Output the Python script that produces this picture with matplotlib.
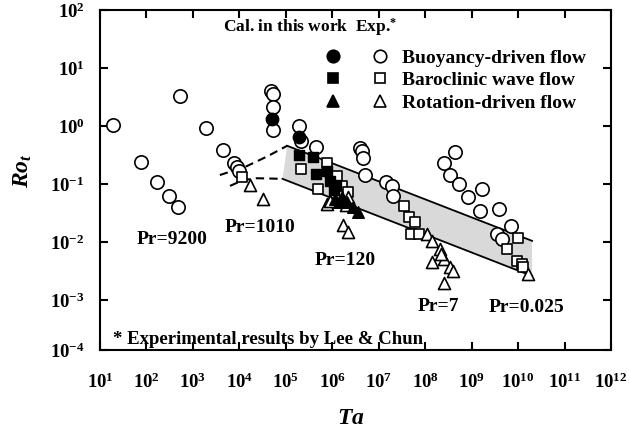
import matplotlib
matplotlib.use('Agg')
import matplotlib.pyplot as plt
from matplotlib.lines import Line2D
from matplotlib.legend_handler import HandlerTuple
from matplotlib.ticker import FixedLocator, NullLocator

plt.rcParams['font.family'] = 'Liberation Serif'
plt.rcParams['font.weight'] = 'bold'
plt.rcParams['mathtext.fontset'] = 'custom'
plt.rcParams['mathtext.rm'] = 'Liberation Serif:bold'
plt.rcParams['mathtext.bf'] = 'Liberation Serif:bold'
plt.rcParams['mathtext.it'] = 'Liberation Serif:italic:bold'

# --- experiments (Lee & Chun), open symbols ---
ta_buoy_exp = [1.9e1, 5.2e2, 7.6e1, 1.7e2, 3.0e2, 4.7e2, 1.9e3, 4.4e3, 7.6e3, 8.7e3,
               9.8e3, 4.7e4, 5.2e4, 5.2e4, 5.2e4, 1.9e5, 2.1e5, 4.4e5, 3.9e6, 4.3e6,
               4.7e6, 5.1e6, 1.4e7, 1.9e7, 2.0e7, 4.4e8, 2.5e8, 3.5e8, 5.4e8, 8.3e8,
               1.7e9, 1.5e9, 3.8e9, 7.2e9, 3.5e9, 4.5e9]
ro_buoy_exp = [1.05, 3.3, 0.24, 0.107, 0.062, 0.040, 0.93, 0.39, 0.23, 0.195,
               0.166, 4.0, 3.5, 2.1, 0.85, 1.0, 0.55, 0.44, 0.42, 0.37,
               0.28, 0.145, 0.107, 0.091, 0.062, 0.355, 0.23, 0.145, 0.10, 0.060,
               0.081, 0.034, 0.037, 0.019, 0.0138, 0.0112]

ta_baro_exp = [1.15e4, 2.1e5, 7.8e5, 1.26e6, 5.0e5, 1.6e6, 2.2e6, 3.5e7, 4.5e7, 6.0e7,
               5.0e7, 7.4e7, 9.8e9, 5.8e9, 9.3e9, 1.2e10, 1.26e10]
ro_baro_exp = [0.13, 0.18, 0.23, 0.138, 0.081, 0.093, 0.072, 0.042, 0.027, 0.022,
               0.0138, 0.0138, 0.0117, 0.0076, 0.0047, 0.0042, 0.0037]

ta_rot_exp = [1.66e4, 3.2e4, 7.8e5, 8.9e5, 2.2e6, 2.0e6, 1.7e6, 2.2e6, 1.1e8, 1.4e8,
              2.1e8, 1.4e8, 2.6e8, 3.4e8, 4.0e8, 2.6e8, 2.2e8, 1.6e10]
ro_rot_exp = [0.095, 0.055, 0.046, 0.051, 0.060, 0.044, 0.020, 0.0148, 0.0138, 0.0105,
              0.0076, 0.0046, 0.0051, 0.0037, 0.0032, 0.0020, 0.0063, 0.0028]

# --- present calculations, filled symbols ---
ta_buoy_cal = [5.0e4, 1.9e5]
ro_buoy_cal = [1.32, 0.65]

ta_baro_cal = [1.9e5, 3.9e5, 4.4e5, 7.8e5, 9.1e5, 1.23e6, 1.1e6]
ro_baro_cal = [0.32, 0.29, 0.148, 0.17, 0.112, 0.095, 0.079]

ta_rot_cal = [1.15e6, 1.6e6, 2.1e6, 2.8e6, 3.6e6, 1.4e6]
ro_rot_cal = [0.055, 0.060, 0.049, 0.040, 0.033, 0.050]

# band limits and dashed extensions
band_up_ta = [1.07e5, 2.0e10]
band_up_ro = [0.457, 0.0105]
band_lo_ta = [8.5e4, 2.0e10]
band_lo_ro = [0.123, 0.0026]

dash_up_ta = [3.8e3, 1.45e4, 4.0e4, 1.07e5]
dash_up_ro = [0.143, 0.204, 0.30, 0.457]
dash_lo_ta = [6.3e3, 1.2e4, 2.4e4, 8.5e4]
dash_lo_ro = [0.093, 0.117, 0.126, 0.123]

pr_labels = ['Pr=9200', 'Pr=1010', 'Pr=120', 'Pr=7', 'Pr=0.025']
pr_ta = [3.5e2, 2.8e4, 1.9e6, 1.9e8, 1.55e10]
pr_ro = [0.0112, 0.018, 0.0049, 7.9e-4, 7.6e-4]

xticks = [10.0**k for k in range(1, 13)]
xticklabels = ['$10^{%d}$' % k for k in range(1, 13)]
ybottom = 10 ** -3.86
yticks = [ybottom, 1e-3, 1e-2, 1e-1, 1e0, 1e1, 1e2]
yticklabels = ['$10^{-4}$', '$10^{-3}$', '$10^{-2}$', '$10^{-1}$', '$10^{0}$', '$10^{1}$', '$10^{2}$']

fig = plt.figure(figsize=(6.29, 4.4), dpi=100)
ax = fig.add_axes([100 / 629, 90 / 440, 511 / 629, 340 / 440])
ax.set_xscale('log')
ax.set_yscale('log')
ax.set_xlim(10, 1e12)
ax.set_ylim(ybottom, 100)

# grey band between the two solid lines
ax.fill(band_up_ta + band_lo_ta[::-1], band_up_ro + band_lo_ro[::-1],
        color='#d9d9d9', lw=0, zorder=1)
ax.plot(band_up_ta, band_up_ro, color='black', lw=1.3, zorder=2)
ax.plot(band_lo_ta, band_lo_ro, color='black', lw=1.3, zorder=2)
ax.plot(dash_up_ta, dash_up_ro, color='black', lw=1.5, ls=(0, (4, 2.5)), zorder=2)
ax.plot(dash_lo_ta, dash_lo_ro, color='black', lw=1.5, ls=(0, (4, 2.5)), zorder=2)

kw_open = dict(facecolors='white', edgecolors='black', linewidths=1.2, zorder=3)
kw_full = dict(facecolors='black', edgecolors='black', linewidths=1.0, zorder=4)
ax.scatter(ta_buoy_exp, ro_buoy_exp, s=92, marker='o', **kw_open)
ax.scatter(ta_baro_exp, ro_baro_exp, s=50, marker='s', **kw_open)
ax.scatter(ta_rot_exp, ro_rot_exp, s=75, marker='^', **kw_open)
ax.scatter(ta_buoy_cal, ro_buoy_cal, s=80, marker='o', **kw_full)
ax.scatter(ta_baro_cal, ro_baro_cal, s=50, marker='s', **kw_full)
ax.scatter(ta_rot_cal, ro_rot_cal, s=70, marker='^', **kw_full)

for lab, x, y in zip(pr_labels, pr_ta, pr_ro):
    ax.text(x, y, lab, ha='center', va='center', fontsize=14)

ax.text(0.025, 0.03, '* Experimental results by Lee & Chun', transform=ax.transAxes,
        ha='left', va='center', fontsize=13.5)
ax.text(0.241, 0.95, 'Cal. in this work  Exp.$^{*}$', transform=ax.transAxes,
        ha='left', va='center', fontsize=12.5)

# legend: filled (calculation) and open (experiment) symbol per row
def mk(marker, ms, fill):
    return Line2D([], [], ls='none', marker=marker, ms=ms, mec='black', mew=1.2,
                  mfc='black' if fill else 'white')

handles = [(mk('o', 9, True), mk('o', 9, False)),
           (mk('s', 6.5, True), mk('s', 6.5, False)),
           (mk('^', 8, True), mk('^', 8, False))]
labels = ['Buoyancy-driven flow', 'Baroclinic wave flow', 'Rotation-driven flow']
ax.legend(handles, labels, handler_map={tuple: HandlerTuple(ndivide=None, pad=0.67)},
          frameon=False, loc='upper left', bbox_to_anchor=(0.423, 0.885),
          borderpad=0, borderaxespad=0, handlelength=4.17, handletextpad=0.26,
          labelspacing=0.25, fontsize=14)

ax.xaxis.set_major_locator(FixedLocator(xticks))
ax.xaxis.set_minor_locator(NullLocator())
ax.set_xticklabels(xticklabels)
ax.yaxis.set_major_locator(FixedLocator(yticks))
ax.yaxis.set_minor_locator(NullLocator())
ax.set_yticklabels(yticklabels)
ax.tick_params(which='both', direction='in', top=True, right=True, length=6, width=1.5,
               labelsize=13.5)
ax.tick_params(axis='x', pad=16)
ax.tick_params(axis='y', pad=11)
for sp in ax.spines.values():
    sp.set_linewidth(1.5)

ax.set_xlabel('$Ta$', fontsize=17)
ax.set_ylabel('$Ro_t$', fontsize=17)
ax.xaxis.set_label_coords(0.49, -0.17)
ax.yaxis.set_label_coords(-0.13, 0.526)

fig.savefig('out.png', dpi=100)
